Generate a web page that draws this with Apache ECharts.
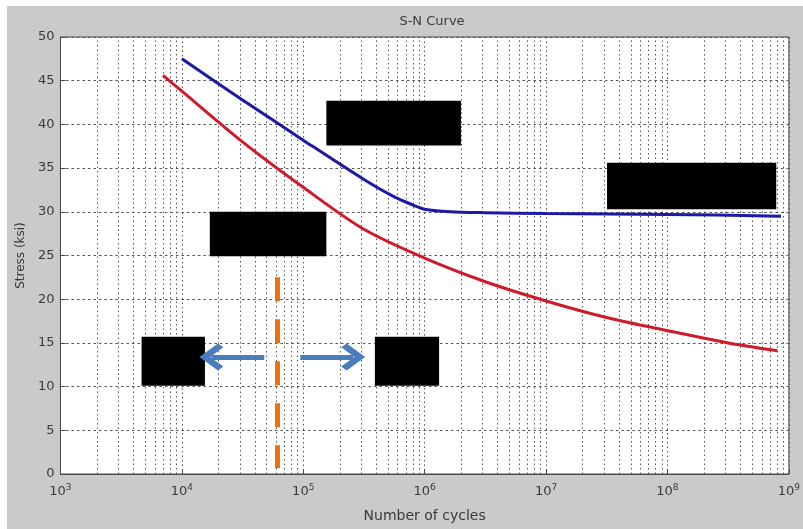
<!DOCTYPE html>
<html>
<head>
<meta charset="utf-8">
<script src="https://cdn.jsdelivr.net/npm/echarts@6/dist/echarts.min.js"></script>
<style>
  html, body { margin: 0; padding: 0; background: #ffffff; }
  #chart { position: absolute; left: 7px; top: 6px; width: 796px; height: 523px; background: #cacaca; }
</style>
</head>
<body>
<div id="chart"></div>
<script>
// ---- data ----
const titleText = 'S-N Curve';
const xAxisName = 'Number of cycles';
const yAxisName = 'Stress (ksi)';

const blueCycles = [1e4, 3.16e4, 1e5, 3.16e5, 5.62e5, 7.94e5, 1e6, 1.41e6, 2e6, 3.16e6, 1e7, 1e8, 8.6e8];
const blueStress = [47.5, 42.8, 38.2, 33.7, 31.7, 30.8, 30.3, 30.05, 29.95, 29.9, 29.8, 29.7, 29.5];

const redCycles = [7e3, 1e4, 3.16e4, 1e5, 3.16e5, 1e6, 3.16e6, 1e7, 3.16e7, 1e8, 3.16e8, 8.05e8];
const redStress = [45.6, 43.8, 38.0, 32.8, 28.0, 24.7, 22.0, 19.8, 17.9, 16.4, 15.0, 14.1];

const yTicks = [0, 5, 10, 15, 20, 25, 30, 35, 40, 45, 50];
const decades = [1e3, 1e4, 1e5, 1e6, 1e7, 1e8];
const minorMultipliers = [2, 3, 4, 5, 6, 7, 8, 9];

// annotation boxes (redactions) in data coordinates: [x0, y0, x1, y1]
const boxes = [
  [1.55e5, 42.7, 1.99e6, 37.6],
  [1.70e4, 30.0, 1.55e5, 24.9],
  [3.18e7, 35.6, 7.87e8, 30.3],
  [4.66e3, 15.7, 1.55e4, 10.1],
  [3.89e5, 15.7, 1.315e6, 10.1]
];
const dividerCycle = 6.15e4;
const dividerRange = [22.5, 0.7];
const arrowY = 13.4;
const arrowLeft = [4.77e4, 1.75e4];
const arrowRight = [9.46e4, 2.58e5];

// ---- build ----
const font = 'DejaVu Sans';
const textColor = '#3a3a3a';
const gridColor = '#555';

const minorLines = [];
decades.forEach(d => minorMultipliers.forEach(m => minorLines.push({ xAxis: d * m })));

const chart = echarts.init(document.getElementById('chart'), null, { renderer: 'canvas' });

const chevron = 'path://M0,12 L12,0 L24,12 L20.5,15.5 L12,7 L3.5,15.5 Z';

chart.setOption({
  animation: false,
  title: {
    text: titleText,
    left: 420,
    textAlign: 'center',
    top: 4,
    textStyle: { fontFamily: font, fontSize: 13, fontWeight: 'normal', color: textColor }
  },
  grid: {
    left: 51, right: 8, top: 31, bottom: 55,
    show: true, backgroundColor: '#ffffff', borderColor: '#4a4a4a', borderWidth: 1
  },
  xAxis: {
    type: 'log', logBase: 10, min: 1e3, max: 1e9, splitNumber: 6,
    name: xAxisName, nameLocation: 'middle', nameGap: 35,
    nameTextStyle: { fontFamily: font, fontSize: 14, color: textColor },
    axisLine: { lineStyle: { color: '#4a4a4a' } },
    axisTick: { inside: true, length: 5, lineStyle: { color: '#4a4a4a' } },
    axisLabel: {
      margin: 9,
      fontFamily: font, fontSize: 13, color: textColor,
      formatter: v => '10{s|' + Math.round(Math.log10(v)) + '}',
      rich: { s: { fontFamily: font, fontSize: 9, color: textColor, verticalAlign: 'bottom', padding: [0, 0, 8, 0] } }
    },
    splitLine: { show: true, lineStyle: { color: gridColor, width: 1, type: [1.5, 3] } }
  },
  yAxis: {
    type: 'value', min: 0, max: 50, interval: 5,
    name: yAxisName, nameLocation: 'middle', nameGap: 32, nameRotate: 90,
    nameTextStyle: { fontFamily: font, fontSize: 12, color: textColor },
    axisLine: { show: true, lineStyle: { color: '#4a4a4a' } },
    axisTick: { show: true, inside: true, length: 5, lineStyle: { color: '#4a4a4a' } },
    axisLabel: {
      margin: 6, fontFamily: font, fontSize: 13, color: textColor,
      formatter: v => (yTicks.indexOf(v) >= 0 ? String(v) : '')
    },
    splitLine: { show: true, lineStyle: { color: gridColor, width: 1, type: [2.5, 3] } }
  },
  series: [
    {
      name: 'grid-minor', type: 'line', data: [], silent: true, z: 1,
      markLine: {
        silent: true, z: 1, symbol: ['none', 'none'], label: { show: false },
        lineStyle: { color: gridColor, width: 1, type: [1.5, 3] },
        data: minorLines
      }
    },
    {
      name: 'upper', type: 'line', smooth: 0.3, symbol: 'none',
      data: blueCycles.map((c, i) => [c, blueStress[i]]),
      lineStyle: { color: '#1a1aa6', width: 3 }, z: 3
    },
    {
      name: 'lower', type: 'line', smooth: 0.3, symbol: 'none',
      data: redCycles.map((c, i) => [c, redStress[i]]),
      lineStyle: { color: '#cf1a2b', width: 3 }, z: 3
    },
    {
      name: 'annotations', type: 'line', data: [], silent: true, z: 10,
      markArea: {
        silent: true, z: 10,
        itemStyle: { color: '#000000', opacity: 1 },
        data: boxes.map(b => [{ coord: [b[0], b[1]] }, { coord: [b[2], b[3]] }])
      },
      markLine: {
        silent: true, z: 10, label: { show: false }, symbol: ['none', 'none'],
        data: [
          [
            { coord: [dividerCycle, dividerRange[0]], lineStyle: { color: '#e8730e', width: 5, type: [24, 18] } },
            { coord: [dividerCycle, dividerRange[1]] }
          ],
          [
            { coord: [arrowLeft[0], arrowY], symbol: 'none', lineStyle: { color: '#4a7dbb', width: 5, type: 'solid' } },
            { coord: [arrowLeft[1], arrowY], symbol: chevron, symbolSize: [27, 24] }
          ],
          [
            { coord: [arrowRight[0], arrowY], symbol: 'none', lineStyle: { color: '#4a7dbb', width: 5, type: 'solid' } },
            { coord: [arrowRight[1], arrowY], symbol: chevron, symbolSize: [27, 24] }
          ]
        ]
      }
    }
  ]
});
</script>
</body>
</html>
